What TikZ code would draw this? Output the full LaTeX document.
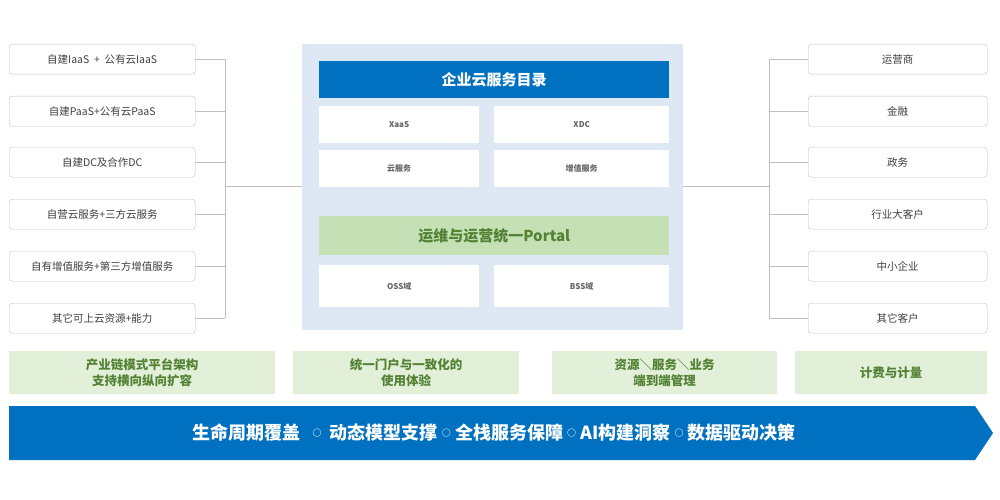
\documentclass[tikz,border=0pt]{standalone}
\usepackage{fontspec}
\setmainfont{Noto Sans CJK SC}
\definecolor{mblue}{HTML}{0070C0}
\definecolor{panel}{HTML}{DDE8F4}
\definecolor{lgreen}{HTML}{C5E0B4}
\definecolor{pgreen}{HTML}{E2F0D9}
\definecolor{dgreen}{HTML}{548235}
\definecolor{lgray}{HTML}{BFBFBF}
\definecolor{tgray}{HTML}{404040}
\newcommand{\sepc}{\raisebox{0.2em}{\small○}}
\begin{document}
\begin{tikzpicture}[x=1pt,y=-1pt,
 sbox/.style={draw=lgray,fill=white,rounded corners=3pt,minimum width=186pt,minimum height=30pt,font=\fontsize{10.5}{11}\selectfont,text=tgray,anchor=north west,inner sep=0},
 rbox/.style={sbox,minimum width=179pt},
 wbox/.style={fill=white,anchor=north west,inner sep=0,font=\fontsize{8}{9}\selectfont\bfseries,text=tgray!80},
 gbox/.style={fill=pgreen,anchor=north west,inner sep=0,minimum height=43pt,font=\fontsize{12.5}{16}\selectfont\bfseries,text=dgreen,align=center},
 conn/.style={draw=lgray,line width=0.6pt}]
\useasboundingbox (0,0) rectangle (1000,500);
% left
\foreach \t/\y [count=\i] in {自建IaaS ~+~ 公有云IaaS/44,自建PaaS+公有云PaaS/96,自建DC及合作DC/147,自营云服务+三方云服务/199,自有增值服务+第三方增值服务/251,其它可上云资源+能力/303}
 \node[sbox] (l\i) at (9,\y) {\t};
\foreach \t/\y [count=\i] in {运营商/44,金融/96,政务/147,行业大客户/199,中小企业/251,其它客户/303}
 \node[rbox] (r\i) at (808,\y) {\t};
% panel
\node[fill=panel,anchor=north west,minimum width=381pt,minimum height=286pt,inner sep=0] (panel) at (302,44) {};
\node[fill=mblue,anchor=north west,minimum width=350pt,minimum height=37pt,inner sep=0,text=white,font=\fontsize{15}{16}\selectfont\bfseries] (hdr) at (319,61) {企业云服务目录};
\node[wbox,minimum width=160pt,minimum height=37pt] (w1) at (319,106) {XaaS};
\node[wbox,minimum width=175pt,minimum height=37pt] (w2) at (494,106) {XDC};
\node[wbox,minimum width=160pt,minimum height=37pt] (w3) at (319,150) {云服务};
\node[wbox,minimum width=175pt,minimum height=37pt] (w4) at (494,150) {增值服务};
\node[fill=lgreen,anchor=north west,minimum width=350pt,minimum height=39pt,inner sep=0,text=dgreen,font=\fontsize{15}{16}\selectfont\bfseries] (portal) at (319,216) {运维与运营统一Portal};
\node[wbox,minimum width=160pt,minimum height=42pt] (w5) at (319,265) {OSS域};
\node[wbox,minimum width=175pt,minimum height=42pt] (w6) at (494,265) {BSS域};
% connectors
\coordinate (lj) at (225,186);
\coordinate (rj) at (769,186);
\foreach \i in {1,...,6} {
 \draw[conn] (l\i.east) -- (l\i.east -| lj);
 \draw[conn] (r\i.west) -- (r\i.west -| rj);}
\draw[conn] (l1.east -| lj) -- (l6.east -| lj);
\draw[conn] (r1.west -| rj) -- (r6.west -| rj);
\draw[conn] (lj) -- (lj -| panel.west);
\draw[conn] (rj) -- (rj -| panel.east);
% bottom green
\node[gbox,minimum width=266pt] (g1) at (9,351) {产业链模式平台架构\\支持横向纵向扩容};
\node[gbox,minimum width=226pt] (g2) at (293,351) {统一门户与一致化的\\使用体验};
\node[gbox,minimum width=225pt] (g3) at (552,351) {资源＼服务＼业务\\端到端管理};
\node[gbox,minimum width=192pt] (g4) at (795,351) {计费与计量};
% arrow
\fill[mblue] (9,406) -- (975,406) -- (993,433) -- (975,460) -- (9,460) -- cycle;
\node[text=white,font=\fontsize{18}{19}\selectfont\bfseries] (arr) at (494,433) {生命周期覆盖\ \ \ \sepc\ \ 动态模型支撑\ \sepc\ 全栈服务保障\ \sepc\ AI构建洞察\ \sepc\ 数据驱动决策};
\end{tikzpicture}
\end{document}
